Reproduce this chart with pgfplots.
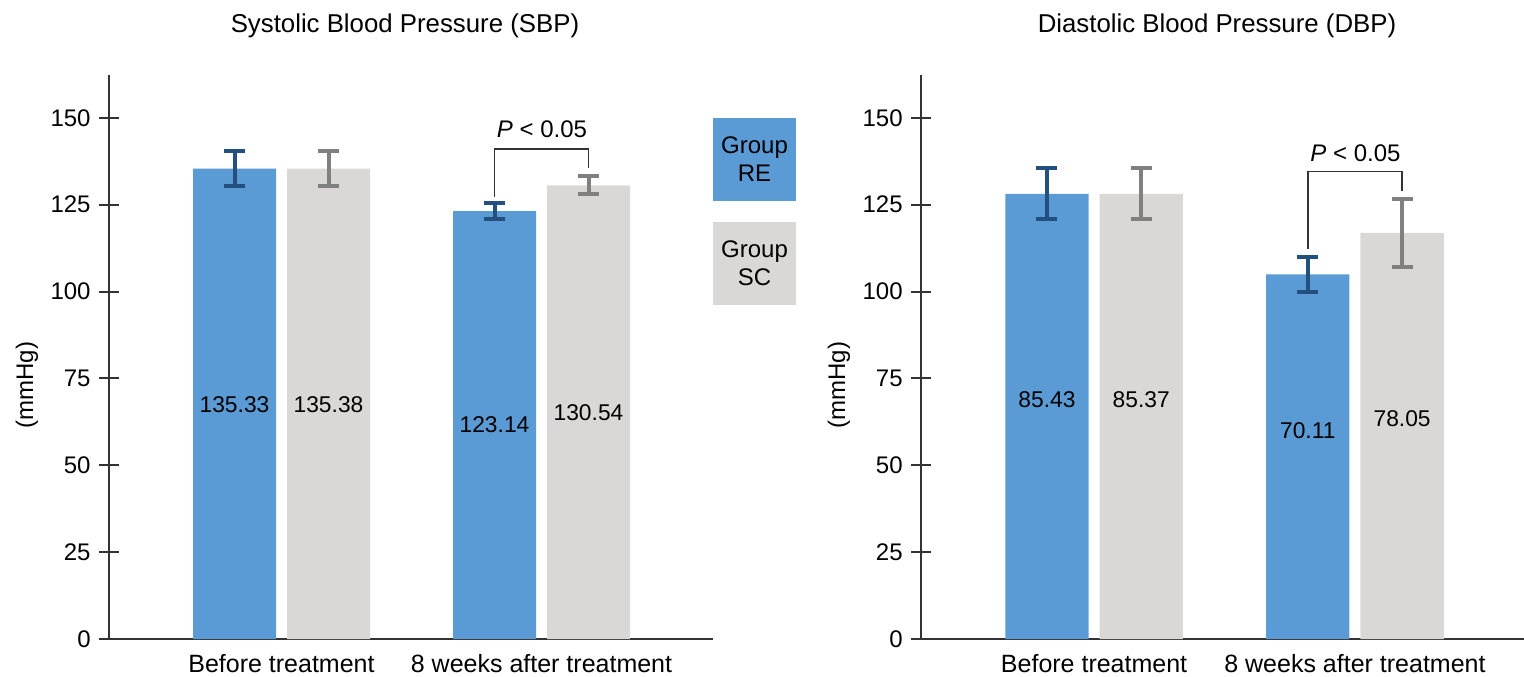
\documentclass[border=0pt]{standalone}
\usepackage{fontspec}
\setmainfont{Liberation Sans}
\usepackage{pgfplots}
\pgfplotsset{compat=1.18}
\usepackage{pgfplotstable}

\definecolor{reblue}{HTML}{5B9BD5}
\definecolor{scgrey}{HTML}{D9D8D7}
\definecolor{reerr}{HTML}{23507F}
\definecolor{scerr}{HTML}{808080}
\definecolor{axcol}{HTML}{333333}

% SBP
\pgfplotstableread{
x      y       e
1.255  135.33  5.0
3.855  123.14  2.2
}\sbpRE
\pgfplotstableread{
x      y       e
2.195  135.38  5.0
4.795  130.54  2.6
}\sbpSC
% DBP (bar heights as drawn)
\pgfplotstableread{
x      y       e
1.255  128.1   7.3
3.855  104.9   5.0
}\dbpRE
\pgfplotstableread{
x      y       e
2.195  128.1   7.3
4.795  116.9   9.8
}\dbpSC

\tikzset{vallabel/.style={font=\fontsize{11.4}{13}\selectfont}}

\pgfplotsset{
  myaxis/.style={
    scale only axis,
    width=302pt, height=282pt,
    anchor=south west,
    ymin=0, ymax=162.3,
    xmin=0,
    axis x line=bottom, axis y line=left,
    axis line style={-, line width=1pt, color=axcol},
    ytick={0,25,50,75,100,125,150},
    ytick pos=left,
    tick align=center,
    major tick length=10pt,
    ytick style={line width=1pt, color=axcol},
    xtick={1.725,4.325},
    xticklabels={Before treatment, 8 weeks after treatment},
    xtick style={draw=none},
    xticklabel style={anchor=center, yshift=-2.3pt, inner sep=0pt, font=\fontsize{12.5}{14}\selectfont},
    yticklabel style={anchor=east, inner sep=0pt, xshift=-4pt},
    /pgf/number format/assume math mode=true,
    ylabel={(mmHg)},
    ylabel style={at={(axis description cs:-0.136,0.45)}, anchor=center},
    title style={at={(axis description cs:0.49,1)}, anchor=center, yshift=18.5pt, font=\fontsize{12.9}{15}\selectfont},
    ybar, bar width=0.83, bar shift=0pt,
    clip=false,
    error bars/y dir=both, error bars/y explicit,
  },
  reerrs/.style={error bars/error bar style={line width=2pt, color=reerr},
    error bars/error mark options={rotate=90, mark size=5.25pt, line width=2pt, color=reerr}},
  scerrs/.style={error bars/error bar style={line width=2pt, color=scerr},
    error bars/error mark options={rotate=90, mark size=5.25pt, line width=2pt, color=scerr}},
}

\begin{document}
\begin{tikzpicture}[font=\fontsize{12}{14}\selectfont]
\path[use as bounding box] (0,0) rectangle (762pt,338pt);

\begin{axis}[myaxis, at={(54.5pt,18.5pt)}, xmax=6.04, title={Systolic Blood Pressure (SBP)}]
\addplot[fill=reblue, draw=none, reerrs] table[x=x, y=y, y error=e] {\sbpRE};
\addplot[fill=scgrey, draw=none, scerrs] table[x=x, y=y, y error=e] {\sbpSC};
\node[vallabel] at (axis cs:1.255,67.3) {135.33};
\node[vallabel] at (axis cs:2.195,67.3) {135.38};
\node[vallabel] at (axis cs:3.855,61.6) {123.14};
\node[vallabel] at (axis cs:4.795,65.0) {130.54};
\draw[line width=0.75pt, color=axcol] (axis cs:3.855,127.3) -- (axis cs:3.855,141) -- (axis cs:4.795,141) -- (axis cs:4.795,135.5);
\node at (axis cs:4.33,146.8) {\textit{P} < 0.05};
\end{axis}

\begin{axis}[myaxis, at={(460.5pt,18.5pt)}, xmax=6.02, title={Diastolic Blood Pressure (DBP)}]
\addplot[fill=reblue, draw=none, reerrs] table[x=x, y=y, y error=e] {\dbpRE};
\addplot[fill=scgrey, draw=none, scerrs] table[x=x, y=y, y error=e] {\dbpSC};
\node[vallabel] at (axis cs:1.255,68.8) {85.43};
\node[vallabel] at (axis cs:2.195,69.0) {85.37};
\node[vallabel] at (axis cs:3.855,60.1) {70.11};
\node[vallabel] at (axis cs:4.795,63.3) {78.05};
\draw[line width=0.75pt, color=axcol] (axis cs:3.855,112.2) -- (axis cs:3.855,134.5) -- (axis cs:4.795,134.5) -- (axis cs:4.795,129.0);
\node at (axis cs:4.33,139.9) {\textit{P} < 0.05};
\end{axis}

% legend
\node[fill=reblue, minimum width=41.5pt, minimum height=41.5pt, inner sep=0pt, align=center] at (377.25pt,258.25pt) {Group\\RE};
\node[fill=scgrey, minimum width=41.5pt, minimum height=41.5pt, inner sep=0pt, align=center] at (377.25pt,206.25pt) {Group\\SC};
\end{tikzpicture}
\end{document}
